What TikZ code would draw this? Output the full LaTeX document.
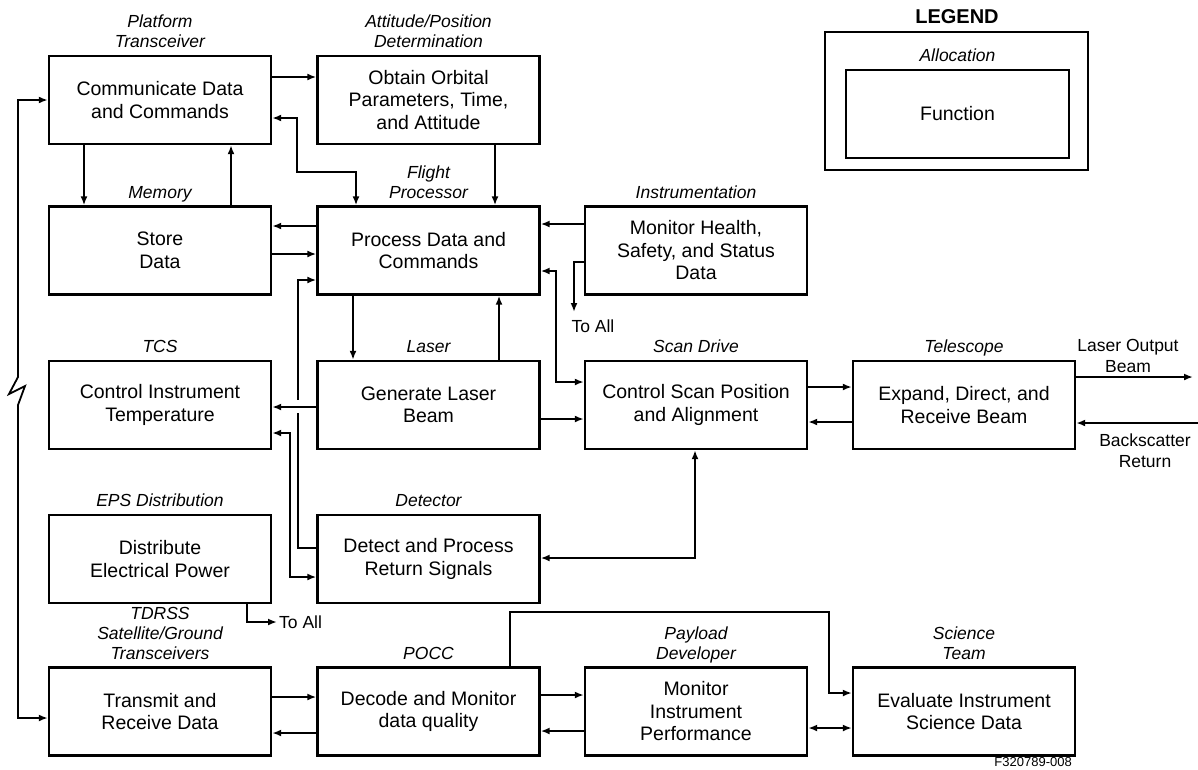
\documentclass[tikz,border=0pt]{standalone}
\usepackage{fontspec}
\setmainfont{Liberation Sans}
\usetikzlibrary{arrows.meta}
\begin{document}
\begin{tikzpicture}[x=1pt,y=-1pt,
  box/.style={draw, line width=2.4pt, minimum width=222pt, minimum height=88pt,
    align=center, inner sep=0pt, font=\fontsize{19.5}{22.5}\selectfont},
  lab/.style={align=center, inner sep=0pt, anchor=south, text depth=4pt,
    font=\fontsize{17.5}{20}\selectfont\itshape},
  note/.style={inner sep=0pt, align=center, font=\fontsize{17.5}{21}\selectfont},
  tip/.tip={Latex[length=9pt,width=7pt]},
  flow/.style={line width=1.8pt, -tip},
  flow2/.style={line width=1.8pt, tip-tip},
  wire/.style={line width=1.8pt},
]
\useasboundingbox (0,0) rectangle (1198,769);

% ---------- function boxes ----------
\node[box] (comm)   at (160,100)   {Communicate Data\\and Commands};
\node[box] (orbit)  at (428.5,100) {Obtain Orbital\\Parameters, Time,\\and Attitude};
\node[box] (store)  at (160,250.5) {Store\\Data};
\node[box] (proc)   at (428.5,250.5) {Process Data and\\Commands};
\node[box] (health) at (696,250.5) {Monitor Health,\\Safety, and Status\\Data};
\node[box] (tcs)    at (160,405)   {Control Instrument\\Temperature};
\node[box] (laser)  at (428.5,405) {Generate Laser\\Beam};
\node[box] (scan)   at (696,405)   {Control Scan Position\\and Alignment};
\node[box] (tele)   at (964,405)   {Expand, Direct, and\\Receive Beam};
\node[box] (eps)    at (160,559)   {Distribute\\Electrical Power};
\node[box] (det)    at (428.5,559) {Detect and Process\\Return Signals};
\node[box] (tx)     at (160,711.5) {Transmit and\\Receive Data};
\node[box] (pocc)   at (428.5,711.5) {Decode and Monitor\\data quality};
\node[box] (perf)   at (696,711.5) {Monitor\\Instrument\\Performance};
\node[box] (sci)    at (964,711.5) {Evaluate Instrument\\Science Data};

% ---------- allocation labels ----------
\node[lab] (commL)   at ([yshift=3pt]comm.north)   {Platform\\Transceiver};
\node[lab] (orbitL)  at ([yshift=3pt]orbit.north)  {Attitude/Position\\Determination};
\node[lab] (storeL)  at ([yshift=3pt]store.north)  {Memory};
\node[lab] (procL)   at ([yshift=3pt]proc.north)   {Flight\\Processor};
\node[lab] (healthL) at ([yshift=3pt]health.north) {Instrumentation};
\node[lab] (tcsL)    at ([yshift=3pt]tcs.north)    {TCS};
\node[lab] (laserL)  at ([yshift=3pt]laser.north)  {Laser};
\node[lab] (scanL)   at ([yshift=3pt]scan.north)   {Scan Drive};
\node[lab] (teleL)   at ([yshift=3pt]tele.north)   {Telescope};
\node[lab] (epsL)    at ([yshift=3pt]eps.north)    {EPS Distribution};
\node[lab] (detL)    at ([yshift=3pt]det.north)    {Detector};
\node[lab] (txL)     at ([yshift=3pt]tx.north)     {TDRSS\\Satellite/Ground\\Transceivers};
\node[lab] (poccL)   at ([yshift=3pt]pocc.north)   {POCC};
\node[lab] (perfL)   at ([yshift=3pt]perf.north)   {Payload\\Developer};
\node[lab] (sciL)    at ([yshift=3pt]sci.north)    {Science\\Team};

% ---------- legend ----------
\node[font=\fontsize{20}{22}\selectfont\bfseries] (legT) at (957,17) {LEGEND};
\node[draw, line width=2.4pt, minimum width=263pt, minimum height=138pt] (legO) at (956.5,101) {};
\node[box, minimum width=223pt] (legF) at (957.5,114) {Function};
\node[lab] (legA) at ([yshift=3pt]legF.north) {Allocation};

% ---------- free ends ----------
\coordinate (toA) at (574,312);
\coordinate (toB) at (277,622);
\coordinate (outB) at (1193,377);
\coordinate (inB) at (1198,423);
\node[note] (toAL) at (593,326) {To All};
\node[note, anchor=west] (toBL) at (279,622) {To All};
\node[note] (outL) at (1128,356) {Laser Output\\Beam};
\node[note] (inL) at (1145,451) {Backscatter\\Return};
\node[font=\fontsize{13}{15}\selectfont, anchor=east, inner sep=0pt] (fig) at (1072,762) {F320789-008};

% ---------- connectors ----------
\draw[flow] ([yshift=23pt]comm.east) -- ([yshift=23pt]orbit.west);
\draw[flow2] ([yshift=-18pt]comm.east) -| (297,172) -| ([xshift=-72.5pt]proc.north);
\draw[flow] ([xshift=-76pt]comm.south) -- ([xshift=-76pt]store.north);
\draw[flow] ([xshift=71pt]store.north) -- ([xshift=71pt]comm.south);
\draw[flow] ([xshift=66.5pt]orbit.south) -- ([xshift=66.5pt]proc.north);
\draw[flow] ([yshift=24.5pt]proc.west) -- ([yshift=24.5pt]store.east);
\draw[flow] ([yshift=-3.5pt]store.east) -- ([yshift=-3.5pt]proc.west);

% detector to processor, bridged under the laser/TCS line
\draw[flow] ([yshift=11pt]det.west) -| (298,280) -- ([yshift=-29.5pt]proc.west);
\fill[white] (293,400) rectangle (303,413);
\draw[flow] ([yshift=-2pt]laser.west) -- ([yshift=-2pt]tcs.east);
\draw[flow2] ([yshift=-28pt]tcs.east) -| (290,577) -- ([yshift=-18pt]det.west);

\draw[flow] ([xshift=-75.5pt]proc.south) -- ([xshift=-75.5pt]laser.north);
\draw[flow] ([xshift=70.5pt]laser.north) -- ([xshift=70.5pt]proc.south);
\draw[flow] ([yshift=26.5pt]health.west) -- ([yshift=26.5pt]proc.east);
\draw[flow] ([yshift=-11.5pt]health.west) -| (toA);
\draw[flow2] ([yshift=-20.5pt]proc.east) -| (556,382) -- ([yshift=23pt]scan.west);
\draw[flow] ([yshift=-14pt]laser.east) -- ([yshift=-14pt]scan.west);
\draw[flow] ([yshift=18pt]scan.east) -- ([yshift=18pt]tele.west);
\draw[flow] ([yshift=-17pt]tele.west) -- ([yshift=-17pt]scan.east);
\draw[flow] ([yshift=28pt]tele.east) -- (outB);
\draw[flow] (inB) -- ([yshift=-18pt]tele.east);
\draw[flow2] ([xshift=-1pt]scan.south) |- ([yshift=1pt]det.east);
\draw[flow] ([xshift=87pt]eps.south) |- (toB);

% platform link to the ground transceivers, with a break mark
\draw[flow2] (comm.west) -- (18,100) -- (18,377) -- (9,394) -- (25,386) -- (18,405)
  |- ([yshift=-6.5pt]tx.west);

\draw[flow] ([yshift=14.5pt]tx.east) -- ([yshift=14.5pt]pocc.west);
\draw[flow] ([yshift=-21.5pt]pocc.west) -- ([yshift=-21.5pt]tx.east);
\draw[flow] ([yshift=16.5pt]pocc.east) -- ([yshift=16.5pt]perf.west);
\draw[flow] ([yshift=-19.5pt]perf.west) -- ([yshift=-19.5pt]pocc.east);
\draw[flow] ([xshift=81.5pt]pocc.north) |- (829,612) |- ([yshift=18.5pt]sci.west);
\draw[flow2] ([yshift=-16.5pt]perf.east) -- ([yshift=-16.5pt]sci.west);
\end{tikzpicture}
\end{document}
